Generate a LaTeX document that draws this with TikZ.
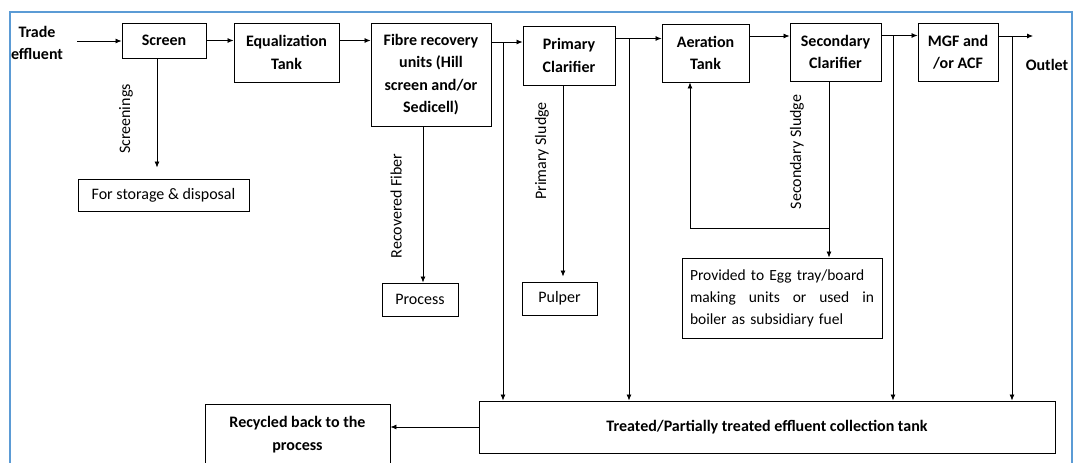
\documentclass[tikz,border=0pt]{standalone}
\usepackage{fontspec}
\setmainfont{Carlito}
\usetikzlibrary{arrows.meta,calc}
\definecolor{frameblue}{RGB}{91,155,213}
\begin{document}
\begin{tikzpicture}[x=1pt,y=-1pt,
  box/.style={draw,line width=0.9pt,inner sep=0pt,align=center,font=\bfseries\fontsize{16}{22.5}\selectfont},
  plainbox/.style={draw,line width=0.9pt,inner sep=0pt,align=center,font=\fontsize{16}{22}\selectfont},
  lbl/.style={font=\fontsize{16}{22}\selectfont,rotate=90,inner sep=0pt},
  boldtxt/.style={font=\bfseries\fontsize{16}{22}\selectfont,align=center,inner sep=0pt},
  arr/.style={line width=0.8pt,-{Latex[length=6pt,width=5pt]}},
  ln/.style={line width=0.8pt}]
\useasboundingbox (0,0) rectangle (1076,463);
\fill[white] (0,0) rectangle (1076,463);
% outer frame
\draw[frameblue,line width=1.5pt] (10,475) -- (10,12) -- (1072,12) -- (1072,475);

% main treatment line
\node[boldtxt] (trade) at (37,43) {Trade\\effluent};
\node[box,minimum width=84pt,minimum height=35pt] (screen) at (164,40.5) {Screen};
\node[box,minimum width=105pt,minimum height=59pt] (eq) at (286.5,52.5) {Equalization\\Tank};
\node[box,minimum width=120pt,minimum height=103pt] (fibre) at (431,74.5) {Fibre recovery\\units (Hill\\screen and/or\\Sedicell)};
\node[box,minimum width=92pt,minimum height=59pt] (prim) at (569,55.5) {Primary\\Clarifier};
\node[box,minimum width=87pt,minimum height=58pt] (aer) at (705.5,53) {Aeration\\Tank};
\node[box,minimum width=91pt,minimum height=58pt] (sec) at (835.5,52) {Secondary\\Clarifier};
\node[box,minimum width=80pt,minimum height=58pt] (mgf) at (958,52) {MGF and\\/or ACF};
\node[boldtxt] (outlet) at (1047,65) {Outlet};

% by-product destinations
\node[plainbox,minimum width=171pt,minimum height=32pt] (store) at (163.5,195) {For storage \& disposal};
\node[plainbox,minimum width=76pt,minimum height=33pt] (proc) at (420,299.5) {Process};
\node[plainbox,minimum width=75pt,minimum height=33pt] (pulp) at (559.5,298.5) {Pulper};
\node[plainbox,minimum width=200pt,minimum height=80pt,text width=184pt,align=left,
  font=\fontsize{15.5}{22}\selectfont] (prov) at (782,298)
  {Provided to Egg tray/board\\making\hfill units\hfill or\hfill used\hfill in\\boiler as subsidiary fuel};
\node[box,minimum width=576pt,minimum height=52pt] (tank) at (767,427) {Treated/Partially treated effluent collection tank};
\node[box,minimum width=185pt,minimum height=61pt] (recyc) at (297.5,434.5) {Recycled back to the\\process};

% rotated stream labels
\node[lbl] (lscr) at (126,119) {Screenings};
\node[lbl] (lrec) at (396,206) {Recovered Fiber};
\node[lbl] (lps) at (542,151) {Primary Sludge};
\node[lbl] (lss) at (797,152) {Secondary Sludge};

% junctions and routing coordinates
\coordinate (in) at (77,41);
\coordinate (j1) at (503,42);
\coordinate (j2) at (629,38.5);
\coordinate (j3) at (893,35.5);
\coordinate (j4) at (1012,36);
\coordinate (out) at (1033,36);
\coordinate (ret) at (829,228);
\coordinate (xs) at (157,0);
\coordinate (xf) at (423,0);
\coordinate (xp) at (563,0);
\coordinate (xa) at (690,0);

% forward flow
\draw[arr] (in) -- (screen.west |- in);
\draw[arr] (screen.east) -- (screen.east -| eq.west);
\draw[arr] (eq.east |- screen.east) -- (fibre.west |- screen.east);
\draw[arr] (fibre.east |- j1) -- (prim.west |- j1);
\draw[arr] (prim.east |- j2) -- (aer.west |- j2);
\draw[arr] (aer.east |- j4) -- (sec.west |- j4);
\draw[arr] (sec.east |- j3) -- (mgf.west |- j3);
\draw[arr] (mgf.east |- j4) -- (out);

% bypass lines to the collection tank
\foreach \j in {j1,j2,j3,j4} \draw[arr] (\j) -- (\j |- tank.north);
\draw[arr] (tank.west) -- (tank.west -| recyc.east);

% side streams
\draw[arr,shorten >=11pt] (screen.south -| xs) -- (store.north -| xs);
\draw[arr] (fibre.south -| xf) -- (proc.north -| xf);
\draw[arr,shorten >=5pt] (prim.south -| xp) -- (pulp.north -| xp);
\draw[ln] (sec.south -| ret) -- (ret);
\draw[arr] (ret) -- (prov.north -| ret);
\draw[arr] (ret) -- (ret -| xa) -- (aer.south -| xa);
\end{tikzpicture}
\end{document}
